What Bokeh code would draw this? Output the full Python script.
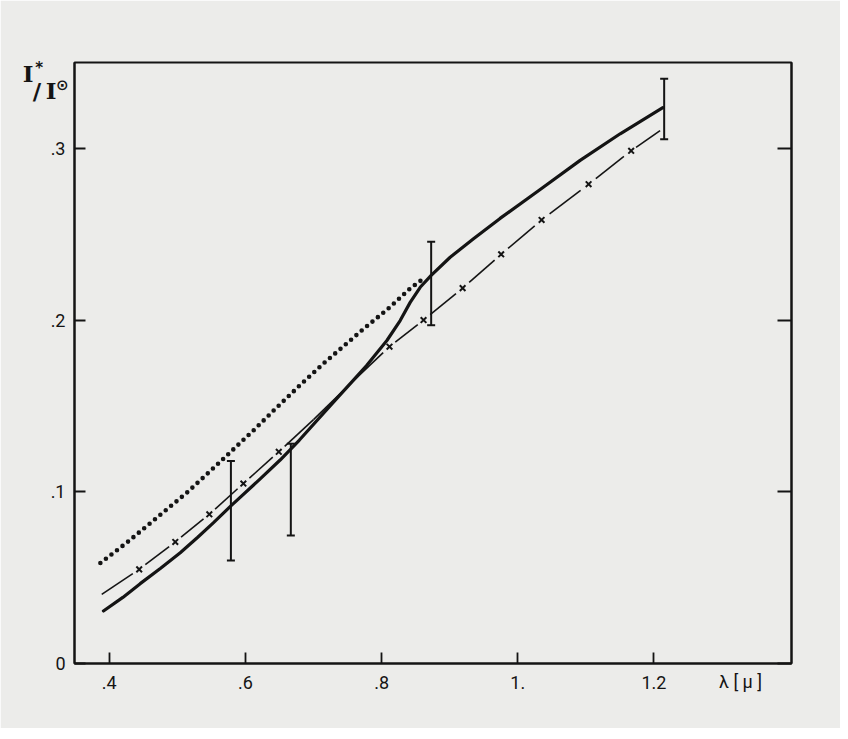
import numpy as np
from bokeh.plotting import figure
from bokeh.models import (ColumnDataSource, LinearAxis, FixedTicker, Range1d,
                          Whisker, TeeHead)
from bokeh.embed import file_html
from bokeh.resources import INLINE
try:
    from bokeh.models import CustomLabelingPolicy
except ImportError:
    CustomLabelingPolicy = None

# ---------------- data ----------------
solid_x = [0.3915, 0.42, 0.4455, 0.475, 0.5043, 0.53, 0.5532, 0.5787, 0.6217, 0.651,
           0.679, 0.729, 0.778, 0.8078, 0.8273, 0.842, 0.8567, 0.8728, 0.9007, 0.935,
           0.974, 1.0329, 1.0916, 1.1504, 1.213]
solid_y = [0.0306, 0.0385, 0.0465, 0.0553, 0.0645, 0.0735, 0.0820, 0.0918, 0.1075,
           0.1185, 0.1300, 0.1521, 0.1735, 0.1881, 0.1997, 0.2103, 0.2191, 0.2260,
           0.2366, 0.2473, 0.2592, 0.2760, 0.2930, 0.3085, 0.3237]

dot_x = [0.387, 0.428, 0.472, 0.515, 0.559, 0.590, 0.612, 0.644, 0.680, 0.715,
         0.7725, 0.8116, 0.842, 0.8616]
dot_y = [0.0585, 0.0711, 0.0856, 0.0998, 0.1160, 0.1276, 0.1358, 0.1483, 0.1620,
         0.1748, 0.1945, 0.2073, 0.2184, 0.2242]

cross_x = [0.444, 0.497, 0.547, 0.597, 0.649, 0.8116, 0.8616, 0.919, 0.9756,
           1.035, 1.104, 1.1665]
cross_y = [0.0548, 0.0708, 0.0869, 0.1048, 0.1233, 0.1845, 0.2000, 0.2186, 0.2383,
           0.2583, 0.2791, 0.2986]

cross_line_x = [0.389, 0.444, 0.497, 0.547, 0.597, 0.649, 0.700, 0.757, 0.8116,
                0.8616, 0.919, 0.9756, 1.035, 1.104, 1.1665, 1.209]
cross_line_y = [0.0403, 0.0548, 0.0708, 0.0869, 0.1048, 0.1233, 0.1420, 0.1640,
                0.1845, 0.2000, 0.2186, 0.2383, 0.2583, 0.2791, 0.2986, 0.3103]

err_x = [0.5787, 0.6667, 0.8728, 1.215]
err_lo = [0.0600, 0.0745, 0.1970, 0.3053]
err_hi = [0.1180, 0.1280, 0.2456, 0.3405]

x_ticks = [0.4, 0.6, 0.8, 1.0, 1.2]
x_tick_labels = [".4", ".6", ".8", "1.", "1.2"]
y_ticks = [0.0, 0.1, 0.2, 0.3]
y_tick_labels = ["0", ".1", ".2", ".3"]
x_title = "λ [ μ ]"
y_title_big = ["I", "/\u2009I"]   # serif part of  I* / I⊙
y_title_small = ["*", "⊙"]        # raised small signs

# ---------------- figure ----------------
PAPER = "#ececea"
INK = "#141414"

FL, FT, FR, FB = 74, 62, 49, 65   # borders around the frame
FW, FH = 717, 601                 # frame size
W, H = FL + FW + FR, FT + FH + FB
X0, X1, Y0, Y1 = 0.349, 1.402, 0.0, 0.35

p = figure(width=W, height=H, output_backend="svg", toolbar_location=None,
           x_range=Range1d(X0, X1), y_range=Range1d(Y0, Y1),
           min_border_left=FL, min_border_right=FR, min_border_top=FT,
           min_border_bottom=FB)
p.background_fill_color = PAPER
p.border_fill_color = PAPER
p.outline_line_color = INK
p.outline_line_width = 2
p.grid.grid_line_color = None

TICK_FONT = "Roboto"

def px2x(px):   # page pixel -> data x (for placing title texts)
    return X0 + (px - FL) * (X1 - X0) / FW

def py2y(py):   # page pixel -> data y
    return Y0 + (FT + FH - py) * (Y1 - Y0) / FH

def style_ticks(ax, tin=11):
    ax.axis_line_color = INK
    ax.axis_line_width = 2
    ax.major_tick_line_color = INK
    ax.major_tick_line_width = 1.8
    ax.major_tick_in = tin
    ax.major_tick_out = 0
    ax.minor_tick_line_color = None

def text_only(ax):
    ax.axis_line_color = None
    ax.major_tick_line_color = None
    ax.minor_tick_line_color = None
    ax.major_tick_in = 0
    ax.major_tick_out = 0

def label_style(ax, font, size, bold=False):
    ax.major_label_text_font = font
    ax.major_label_text_font_size = size
    ax.major_label_text_font_style = "bold" if bold else "normal"
    ax.major_label_text_color = INK

# bottom: ticks + numeric labels
xa = p.xaxis[0]
xa.ticker = FixedTicker(ticks=x_ticks)
xa.major_label_overrides = {t: l for t, l in zip(x_ticks, x_tick_labels)}
style_ticks(xa)
label_style(xa, TICK_FONT, "18px")
xa.major_label_standoff = 12

# bottom: axis title on the same row (text-only axis pulled up)
xt = px2x(740)
xb = LinearAxis(ticker=FixedTicker(ticks=[xt]))
xb.major_label_overrides = {xt: x_title}
text_only(xb)
label_style(xb, TICK_FONT, "18px")
xb.major_label_standoff = -21
p.add_layout(xb, "below")

# left: ticks + numeric labels
ya = p.yaxis[0]
ya.ticker = FixedTicker(ticks=y_ticks)
ya.major_label_overrides = {t: l for t, l in zip(y_ticks, y_tick_labels)}
style_ticks(ya)
label_style(ya, TICK_FONT, "18px")
ya.major_label_standoff = 9

# left: the axis title  I* / I⊙  built from two text-only axes
EN, THIN = "\u2002", "\u2009"
yb_pos = [py2y(73), py2y(89.5)]
yb = LinearAxis(ticker=FixedTicker(ticks=yb_pos))
yb.major_label_overrides = {yb_pos[0]: y_title_big[0] + EN + EN,
                            yb_pos[1]: y_title_big[1]}
text_only(yb)
label_style(yb, "DejaVu Serif", "23px", bold=True)
yb.major_label_standoff = -9
p.add_layout(yb, "left")

yc_pos = [py2y(67), py2y(84)]
yc = LinearAxis(ticker=FixedTicker(ticks=yc_pos))
yc.major_label_overrides = {yc_pos[0]: y_title_small[0] + EN + EN + EN + THIN,
                            yc_pos[1]: y_title_small[1]}
text_only(yc)
label_style(yc, "DejaVu Sans", "15px", bold=True)
yc.major_label_standoff = -49
p.add_layout(yc, "left")

# right: ticks only (labels filtered away)
ra = LinearAxis(ticker=FixedTicker(ticks=y_ticks))
style_ticks(ra, tin=14)
ra.major_label_standoff = 0
if CustomLabelingPolicy is not None:
    ra.major_label_policy = CustomLabelingPolicy(code="return []")
else:
    ra.major_label_text_font_size = "0px"
p.add_layout(ra, "right")

# dotted curve
p.line(dot_x, dot_y, line_color=INK, line_width=4.6, line_dash="0 7",
       line_cap="round")

# solid curve
p.line(solid_x, solid_y, line_color=INK, line_width=3.2, line_join="round",
       line_cap="round")

# dash-cross curve: segments between nodes, with gaps next to the crosses
cx = np.array(cross_line_x)
cy = np.array(cross_line_y)
marked = np.isin(np.round(cx, 4), np.round(np.array(cross_x), 4))
gap = 0.17
x0, y0, x1, y1 = [], [], [], []
for i in range(len(cx) - 1):
    dx, dy = cx[i + 1] - cx[i], cy[i + 1] - cy[i]
    a = gap if marked[i] else 0.0
    b = gap if marked[i + 1] else 0.0
    x0.append(cx[i] + a * dx); y0.append(cy[i] + a * dy)
    x1.append(cx[i + 1] - b * dx); y1.append(cy[i + 1] - b * dy)
p.segment(x0, y0, x1, y1, line_color=INK, line_width=1.6)
p.scatter(cross_x, cross_y, marker="x", size=8, line_color=INK, line_width=2)

# error bars
esrc = ColumnDataSource(dict(x=err_x, lo=err_lo, hi=err_hi))
wh = Whisker(source=esrc, base="x", lower="lo", upper="hi",
             line_color=INK, line_width=2,
             lower_head=TeeHead(size=8, line_color=INK, line_width=2),
             upper_head=TeeHead(size=8, line_color=INK, line_width=2))
p.add_layout(wh)

open("out.html", "w").write(file_html(p, INLINE))
